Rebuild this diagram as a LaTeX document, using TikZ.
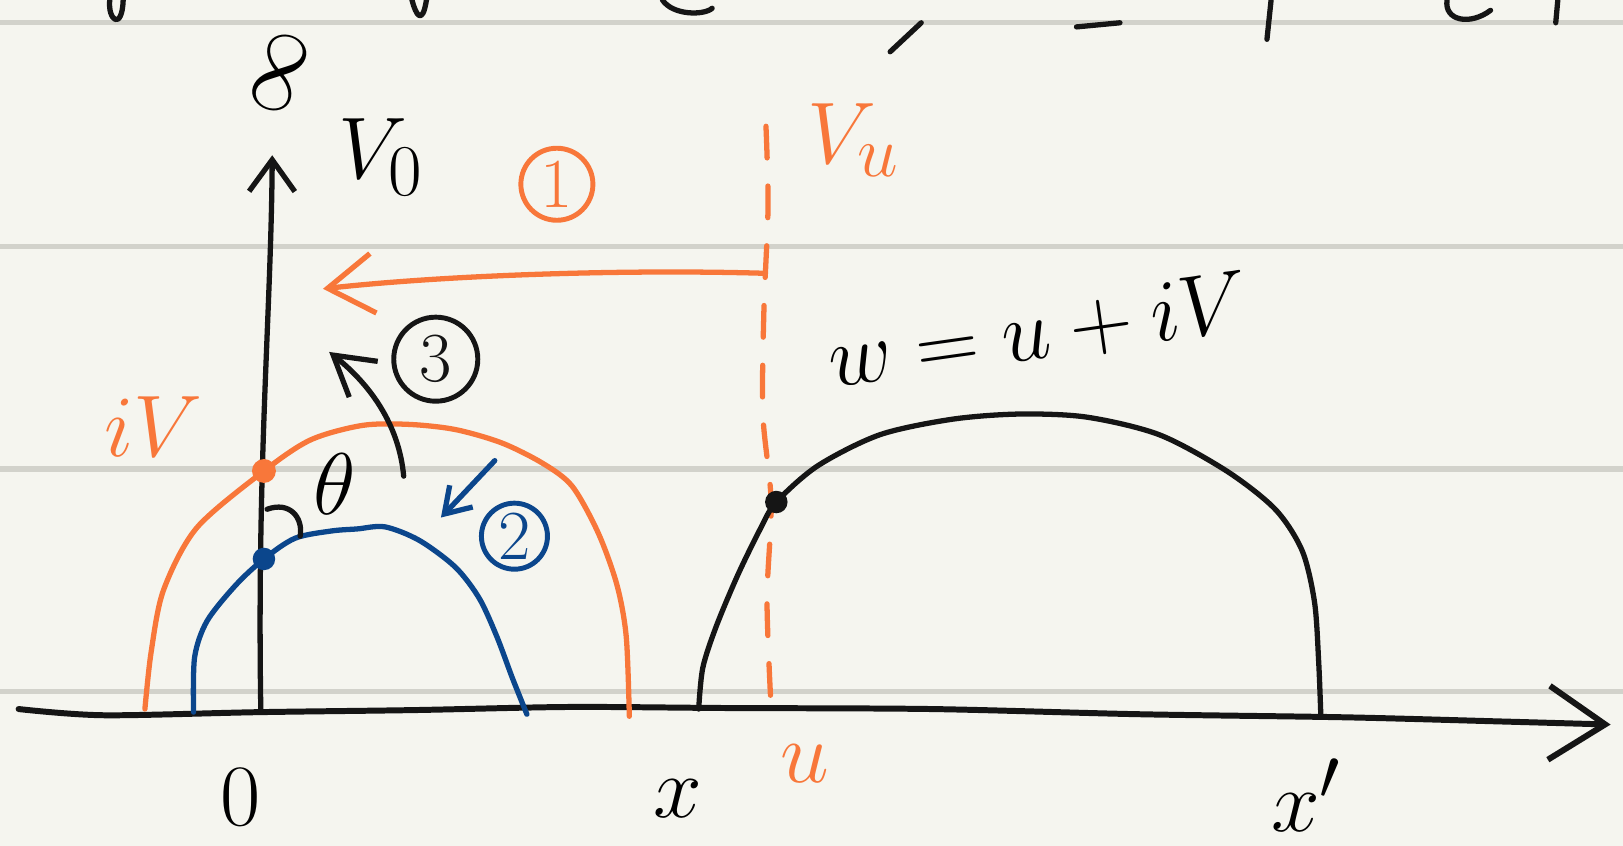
\documentclass[tikz,border=0pt]{standalone}
\usetikzlibrary{arrows.meta}
\definecolor{paper}{HTML}{F5F5EF}
\definecolor{ruleline}{HTML}{D2D2CB}
\definecolor{inkblack}{HTML}{151515}
\definecolor{inkorange}{HTML}{F8773A}
\definecolor{inkblue}{HTML}{0B468C}
\begin{document}
\begin{tikzpicture}[x=0.010351cm, y=-0.010351cm, line cap=round, line join=round]
	\tikzset{every node/.style={inner sep=0pt, font=\fontsize{28}{30}\selectfont}}
	\tikzset{penline/.style={line width=1.5pt, inkblack},
		orangeline/.style={line width=1.5pt, inkorange},
		blueline/.style={line width=1.5pt, inkblue},
		circnum/.style={draw, circle, line width=1.4pt, minimum size=0.72cm, font=\fontsize{20}{20}\selectfont}}
	% --- 1. Trang giấy kẻ dòng ---
	\useasboundingbox (0,0) rectangle (1568,817);
	\fill[paper] (0,0) rectangle (1568,817);
	\foreach \y in {22,238,453,668}
		\draw[ruleline, line width=1.5pt] (0,\y) -- (1568,\y);
	% dòng chữ bị cắt ở mép trên
	\draw[penline] (106,0) .. controls (104,20) and (118,30) .. (119,0);
	\draw[penline] (398,0) .. controls (402,15) and (408,25) .. (412,0);
	\draw[penline] (640,0) .. controls (650,15) and (680,15) .. (688,8);
	\draw[penline] (890,22) -- (860,50);
	\draw[penline] (1040,26) -- (1082,22);
	\draw[penline] (1228,0) -- (1224,38);
	\draw[penline] (1398,0) .. controls (1395,20) and (1420,25) .. (1440,10);
	\draw[penline] (1505,0) -- (1503,22);
	% --- 2. Hệ trục ---
	\coordinate (O) at (252,688);
	\coordinate (xtail) at (18,685);
	\coordinate (xhead) at (1556,700);
	\coordinate (yhead) at (263,150);
	\draw[penline, line width=1.7pt, -{Straight Barb[length=16pt, width=21pt]}] plot[smooth] coordinates {(xtail) (100,691) (250,688) (400,686) (550,683) (700,684) (900,685) (1100,690) (1300,693) (1450,697) (xhead)};
	\draw[penline, -{Straight Barb[length=9pt, width=13pt]}] (O) .. controls (248,450) and (262,300) .. (yhead);
	\node[rotate=70, font=\fontsize{34}{34}\selectfont] (inf) at (270,70) {$\infty$};
	\node (vzero) at (368,152) {$V_0$};
	\node (zero) at (232,770) {$0$};
	\node (xlab) at (655,772) {$x$};
	\node (xprime) at (1262,768) {$x'$};
	% --- 3. Đường tròn (cam, xanh) ---
	\draw[orangeline] plot[smooth] coordinates {(140,685) (146,630) (158,570) (190,510) (255,455) (300,425) (350,411) (395,410) (440,415) (485,428) (525,448) (553,470) (578,515) (596,565) (605,615) (608,692)};
	\draw[blueline] plot[smooth] coordinates {(187,688) (188,635) (200,600) (228,565) (255,540) (285,520) (320,513) (345,511) (372,509) (405,522) (440,548) (463,578) (480,615) (495,655) (509,690)};
	\coordinate (ivdot) at (255,455);
	\coordinate (vdot) at (255,540);
	\fill[inkorange] (ivdot) circle (3.4pt);
	\fill[inkblue] (vdot) circle (3.2pt);
	\node[inkorange] (iv) at (148,412) {$iV$};
	% góc theta
	\draw[penline] (258,492) .. controls (280,484) and (293,500) .. (290,518);
	\node (theta) at (323,468) {$\theta$};
	% --- 4. Đường u = const và ảnh ---
	\draw[orangeline, dash pattern=on 9pt off 8pt] plot[smooth] coordinates {(740,122) (742,200) (738,300) (737,400) (745,485) (741,580) (745,685)};
	\node[inkorange] (vu) at (825,135) {$V_u$};
	\node[inkorange] (ulab) at (778,738) {$u$};
	\draw[penline] plot[smooth] coordinates {(675,685) (679,645) (692,605) (713,555) (735,510) (750,485) (790,450) (850,420) (920,405) (985,400) (1050,403) (1120,420) (1185,455) (1232,492) (1258,532) (1270,582) (1274,640) (1276,690)};
	\coordinate (wdot) at (750,485);
	\fill[inkblack] (wdot) circle (3.2pt);
	\node[rotate=8, font=\fontsize{23}{25}\selectfont] (wlab) at (1003,320) {$w=u+iV$};
	% --- 5. Các bước 1, 2, 3 ---
	\coordinate (onetail) at (738,264);
	\coordinate (onehead) at (312,279);
	\draw[orangeline, -{Straight Barb[length=13pt, width=17pt]}] (onetail) .. controls (600,260) and (430,266) .. (onehead);
	\node[circnum, inkorange] (one) at (538,178) {1};
	\coordinate (threetail) at (390,460);
	\coordinate (threehead) at (318,340);
	\draw[penline, -{Straight Barb[length=11pt, width=13pt]}] (threetail) .. controls (386,415) and (362,375) .. (threehead);
	\node[circnum, inkblack, minimum size=0.84cm] (three) at (421,347) {3};
	\coordinate (twotail) at (478,445);
	\coordinate (twohead) at (426,500);
	\draw[blueline, -{Straight Barb[length=7pt, width=9pt]}] (twotail) -- (twohead);
	\node[circnum, inkblue, minimum size=0.66cm] (two) at (497,518) {2};
\end{tikzpicture}
\end{document}
